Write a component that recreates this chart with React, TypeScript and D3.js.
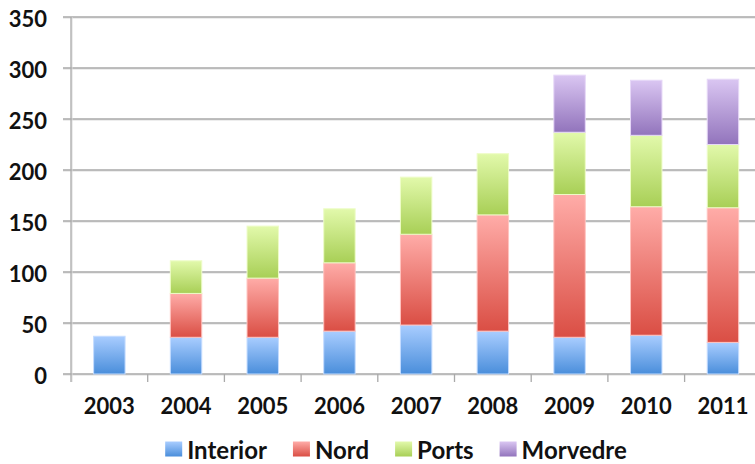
import React from "react";
import * as d3 from "d3";

const years = ["2003", "2004", "2005", "2006", "2007", "2008", "2009", "2010", "2011"];
const interior = [37, 36, 36, 42, 48, 42, 36, 38, 31];
const nord = [0, 43, 58, 67, 89, 114, 140, 126, 132];
const ports = [0, 32, 51, 53, 56, 60, 61, 70, 62];
const morvedre = [0, 0, 0, 0, 0, 0, 56, 54, 64];
const seriesNames = ["Interior", "Nord", "Ports", "Morvedre"];
const yTicks = [0, 50, 100, 150, 200, 250, 300, 350];

const colors = [
  { top: "#a9cdff", bottom: "#4a8edb", edge: "#c4dcff" },
  { top: "#ffaca8", bottom: "#da4e44", edge: "#ffc4c0" },
  { top: "#e2f9ab", bottom: "#a8cf56", edge: "#eefcc8" },
  { top: "#dac6f2", bottom: "#9274bc", edge: "#e6d8f7" },
];

const W = 755;
const H = 464;
const FONT = "Lato, 'Open Sans', sans-serif";

function textWidth(t: string, size: number) {
  if (typeof document === "undefined") return t.length * size * 0.55;
  const c = document.createElement("canvas").getContext("2d");
  if (!c) return t.length * size * 0.55;
  c.font = `bold ${size}px Lato`;
  return c.measureText(t).width;
}

export default function App() {
  const table = years.map((y, i) => ({
    year: y,
    Interior: interior[i],
    Nord: nord[i],
    Ports: ports[i],
    Morvedre: morvedre[i],
  }));
  const stacked = d3.stack<any>().keys(seriesNames)(table);

  const x = d3.scaleBand().domain(years).range([71, 761.3]).paddingInner(0.59).paddingOuter(0.295);
  const step = x.step();
  const y = d3.scaleLinear().domain([0, 350]).range([374, 17]);
  const plotLeft = 71;

  const legendSize = 24;
  const axisSize = 22;
  const items = seriesNames.map((n) => ({ n, w: 17 + 5 + textWidth(n, legendSize) }));
  const gap = 26;
  const totalW = d3.sum(items, (d) => d.w) + gap * (items.length - 1);
  let lx = 396 - totalW / 2;
  const legendItems = items.map((it) => {
    const r = { ...it, x: lx };
    lx += it.w + gap;
    return r;
  });

  return (
    <svg width={W} height={H} style={{ display: "block", position: "absolute", left: 0, top: 0 }}>
      <defs>
        {colors.map((c, i) => (
          <linearGradient key={i} id={`g${i}`} x1="0" y1="0" x2="0" y2="1">
            <stop offset="0%" stopColor={c.top} />
            <stop offset="100%" stopColor={c.bottom} />
          </linearGradient>
        ))}
      </defs>
      <rect x={0} y={0} width={W} height={H} fill="#fff" />
      {/* gridlines */}
      {yTicks.map((t) => (
        <g key={t}>
          <line x1={63} x2={W} y1={y(t) + 1} y2={y(t) + 1} stroke="#dcdcdc" strokeWidth={1} />
          <line x1={63} x2={W} y1={y(t)} y2={y(t)} stroke="#a9a9a9" strokeWidth={1.3} />
        </g>
      ))}
      {/* y axis */}
      <line x1={plotLeft + 1} x2={plotLeft + 1} y1={y(350)} y2={382} stroke="#dcdcdc" strokeWidth={1} />
      <line x1={plotLeft} x2={plotLeft} y1={y(350)} y2={382} stroke="#a9a9a9" strokeWidth={1.3} />
      {/* x ticks */}
      {years.map((yr, i) => {
        const tx = plotLeft + step * (i + 1);
        return <line key={yr} x1={tx} x2={tx} y1={374} y2={382} stroke="#a9a9a9" strokeWidth={1.3} />;
      })}
      {/* bars */}
      {stacked.map((s, si) =>
        s.map((d, i) => {
          const v = d[1] - d[0];
          if (v <= 0) return null;
          const yt = y(d[1]);
          const yb = y(d[0]);
          return (
            <rect
              key={`${si}-${i}`}
              x={(x(years[i]) as number)}
              y={yt}
              width={x.bandwidth()}
              height={yb - yt}
              fill={`url(#g${si})`}
              stroke={colors[si].edge}
              strokeWidth={1}
            />
          );
        })
      )}
      {/* y labels */}
      {yTicks.map((t) => (
        <text
          key={t}
          x={47}
          y={y(t) + 4}
          textAnchor="end"
          dominantBaseline="middle"
          fontFamily={FONT}
          fontWeight="bold"
          fontSize={axisSize}
          fill="#111"
        >
          {t}
        </text>
      ))}
      {/* x labels */}
      {years.map((yr) => (
        <text
          key={yr}
          x={(x(yr) as number) + x.bandwidth() / 2}
          y={414}
          textAnchor="middle"
          fontFamily={FONT}
          fontWeight="bold"
          fontSize={axisSize}
          fill="#111"
        >
          {yr}
        </text>
      ))}
      {/* legend */}
      {legendItems.map((it, i) => (
        <g key={it.n}>
          <rect x={it.x} y={441.5} width={17} height={15} fill={`url(#g${i})`} />
          <text
            x={it.x + 22}
            y={458.5}
            fontFamily={FONT}
            fontWeight="bold"
            fontSize={legendSize}
            fill="#111"
          >
            {it.n}
          </text>
        </g>
      ))}
    </svg>
  );
}
